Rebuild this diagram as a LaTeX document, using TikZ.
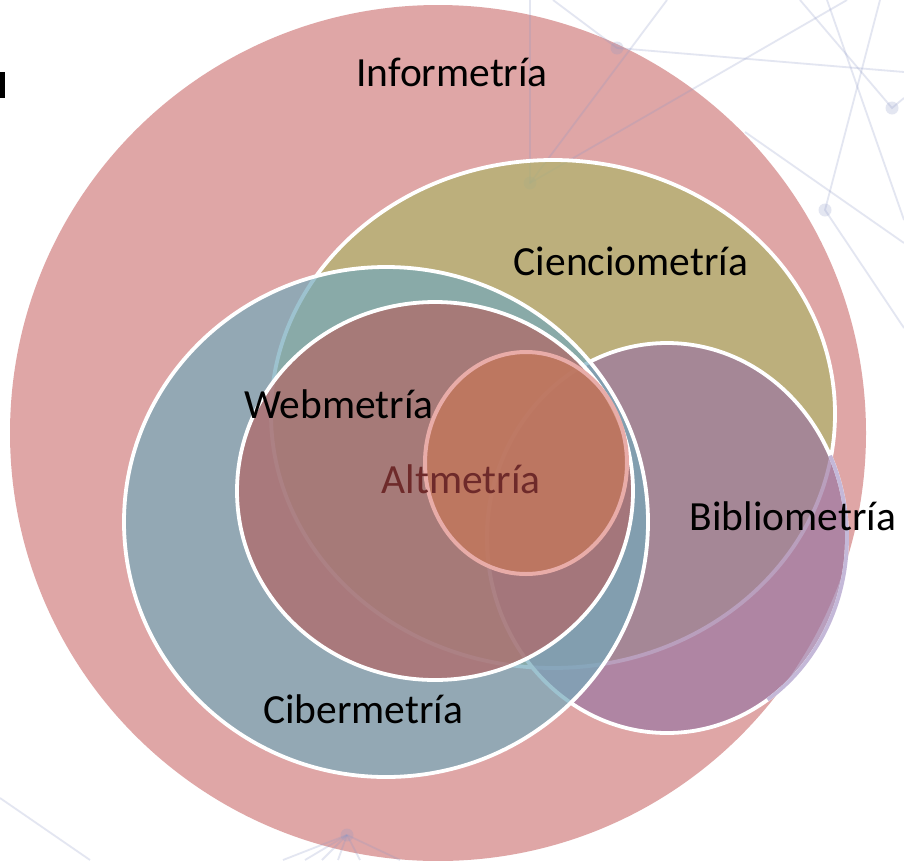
\documentclass[tikz,border=0pt]{standalone}
\usepackage{fontspec}
\setmainfont{Carlito}
\begin{document}
\begin{tikzpicture}[x=1pt,y=-1pt,
  lbl/.style={anchor=base,font=\fontsize{41.5}{48}\selectfont,inner sep=0pt},
  net/.style={draw=netc,line width=1.8pt,opacity=0.24},
  netdot/.style={fill=netc,opacity=0.24},
  venn/.style={fill opacity=0.7,draw=white,line width=3.8pt}]
\definecolor{infc}{RGB}{223,166,166}
\definecolor{cienc}{RGB}{174,180,107}
\definecolor{bibc}{RGB}{156,119,162}
\definecolor{cibc}{RGB}{116,169,187}
\definecolor{webc}{RGB}{179,102,101}
\definecolor{altc}{RGB}{199,119,87}
\definecolor{netc}{RGB}{142,152,198}
\definecolor{lav}{RGB}{196,184,216}
\useasboundingbox (0,0) rectangle (904,860);
\clip (0,0) rectangle (904,860);
\fill[white] (0,0) rectangle (904,860);
% Informetria
\fill[infc] (438,433) ellipse [x radius=428pt, y radius=428pt];
% background network
\coordinate (n1) at (530,183);
\coordinate (n2) at (617,48);
\coordinate (n3) at (892,108);
\coordinate (n4) at (825,210);
\coordinate (n5) at (347,835);
\draw[net] (530,0) -- (n1) -- (847,0);
\draw[net] (n1) -- (667,0);
\draw[net] (553,0) -- (n2) -- (904,72);
\draw[net] (800,0) -- (n3) -- (904,98);
\draw[net] (880,0) -- (n4) -- (904,328);
\draw[net] (827,0) -- (904,220);
\draw[net] (745,132) -- (904,243);
\draw[net] (0,798) -- (90,860);
\foreach \e in {283,305,322,338,360,400}{\draw[net] (n5) -- (\e,860);}
\foreach \n in {n1,n2,n3,n4,n5}{\fill[netdot] (\n) circle[radius=6.5pt];}
% Cienciometria
\path[venn,fill=cienc] (553,414) ellipse [x radius=282pt, y radius=254pt];
% Bibliometria
\path[venn,fill=bibc] (667,538) ellipse [x radius=180pt, y radius=195pt];
\coordinate (bs) at (830.1,455.6);
\draw[lav,line width=3.8pt] (bs) arc[start angle=25,end angle=-56,x radius=180pt,y radius=195pt];
% Cibermetria
\path[venn,fill=cibc] (386,522) ellipse [x radius=262pt, y radius=255pt];
% Webmetria
\path[venn,fill=webc] (435,491) ellipse [x radius=198pt, y radius=189pt];
% Altmetria
\path[fill=altc,fill opacity=0.7,draw={rgb,255:red,232;green,172;blue,168},line width=4pt] (526,463) ellipse [x radius=101pt, y radius=111pt];
% left black mark
\fill[black] (0,72) rectangle (5,98);
% labels
\node[lbl] (inf) at (452,86) {Informetría};
\node[lbl] (cien) at (631,275) {Cienciometría};
\node[lbl] (web) at (339,418) {Webmetría};
\node[lbl,text={rgb,255:red,110;green,42;blue,42}] (alt) at (461,493) {Altmetría};
\node[lbl] (bib) at (793,530) {Bibliometría};
\node[lbl] (cib) at (363,723) {Cibermetría};
\end{tikzpicture}
\end{document}
